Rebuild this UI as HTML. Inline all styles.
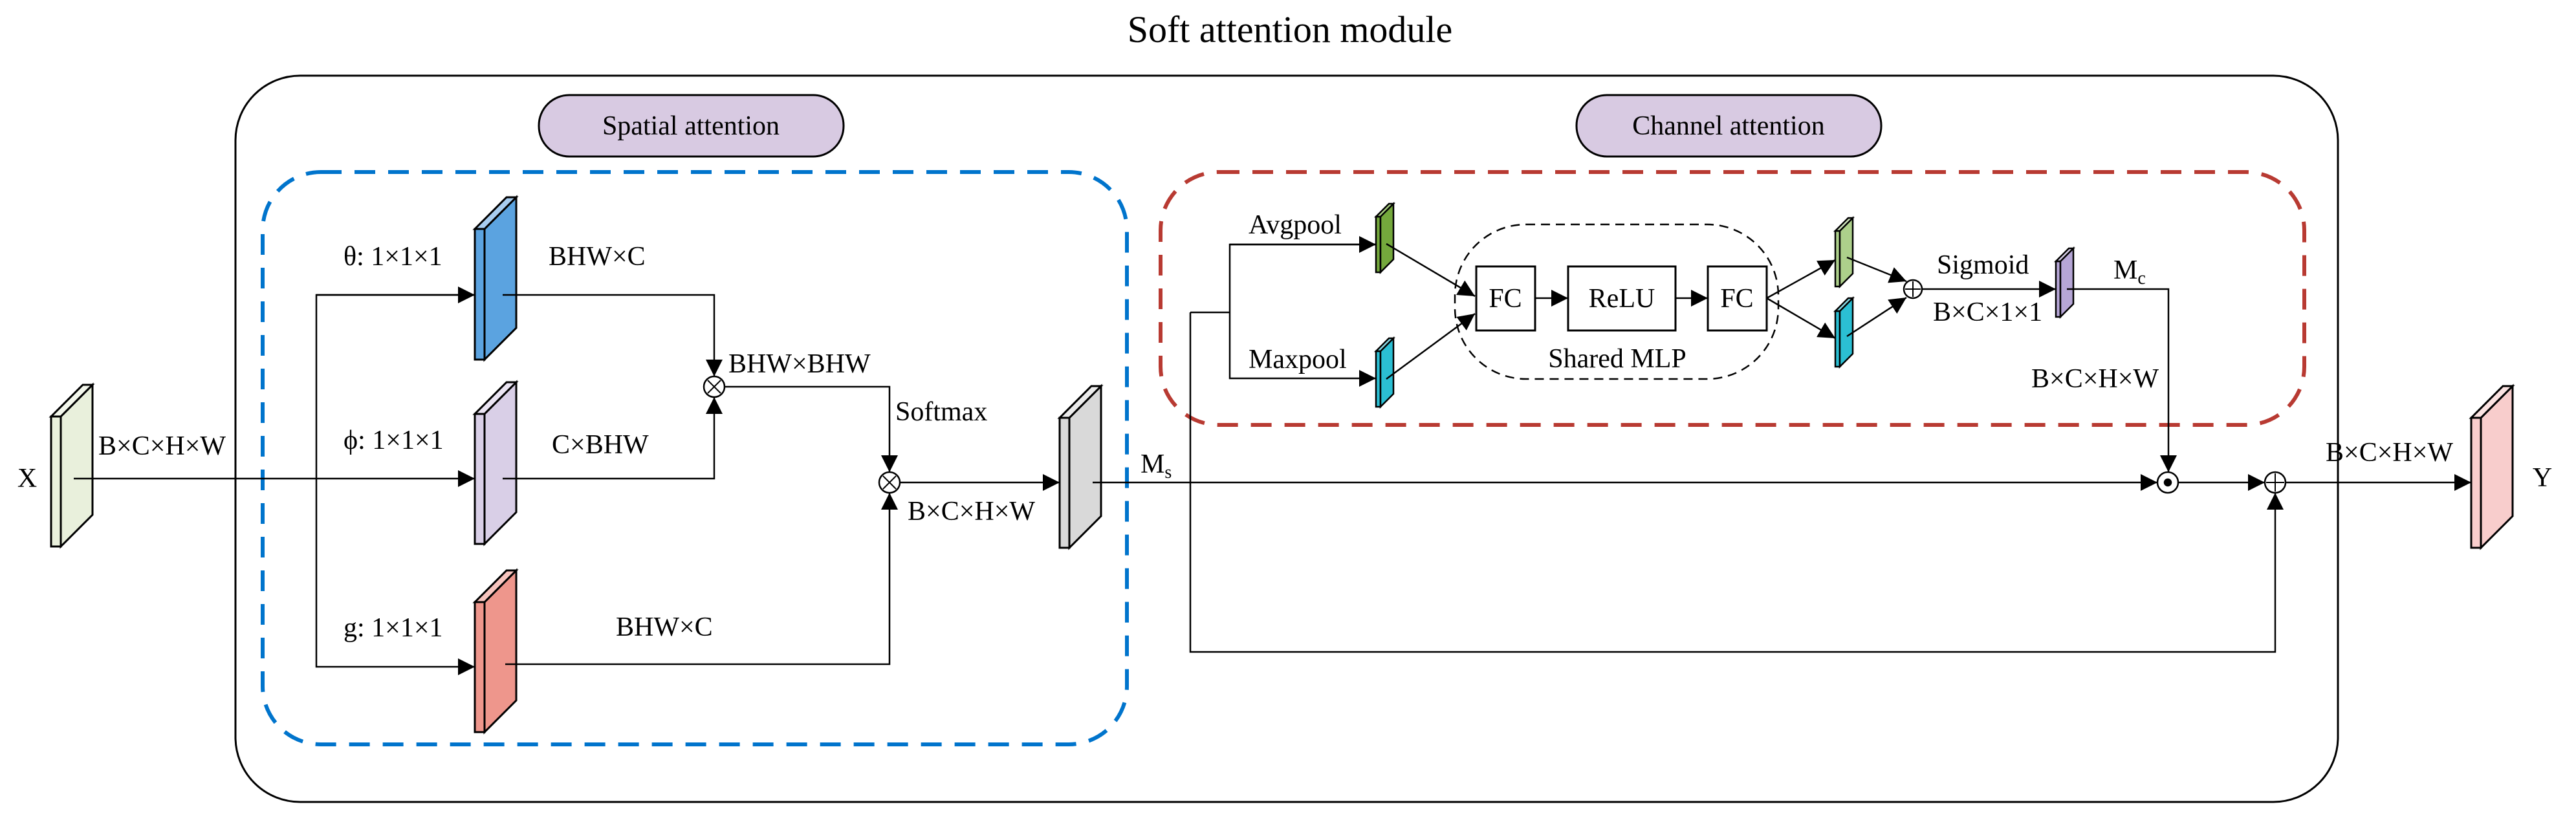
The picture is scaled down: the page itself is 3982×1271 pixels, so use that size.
<!DOCTYPE html>
<html><head><meta charset="utf-8"><style>
html,body{margin:0;padding:0;background:#fff;}
svg{display:block;}
text{font-family:"Liberation Serif",serif;fill:#000;}
</style></head><body>
<svg width="3982" height="1271" viewBox="0 0 3982 1271" xmlns="http://www.w3.org/2000/svg">
<defs>
<marker id="b" viewBox="0 0 10 10" refX="10" refY="5" markerWidth="26" markerHeight="26" markerUnits="userSpaceOnUse" orient="auto"><path d="M0,0 L10,5 L0,10 z" fill="#000"/></marker>
</defs>
<g stroke="#000" fill="none" stroke-width="3">
<text x="1994" y="65" font-size="58" text-anchor="middle" stroke="none">Soft attention module</text>
<rect x="364" y="117" width="3250" height="1123" rx="100" ry="100"/>
<rect x="833" y="147" width="471" height="95" rx="47" fill="#d8cae2"/>
<rect x="2437" y="147" width="471" height="95" rx="47" fill="#d8cae2"/>
<text x="1068" y="208" font-size="42" text-anchor="middle" stroke="none">Spatial attention</text>
<text x="2672" y="208" font-size="42" text-anchor="middle" stroke="none">Channel attention</text>
<rect x="406" y="266" width="1336" height="885" rx="90" stroke="#0074cc" stroke-width="6" stroke-dasharray="32,20"/>
<rect x="1794" y="266" width="1768" height="391" rx="90" stroke="#b83a32" stroke-width="6" stroke-dasharray="32,20"/>
<rect x="2249" y="347" width="500" height="239" rx="110" stroke-width="2.5" stroke-dasharray="14,9"/>

<g stroke-width="3">
<polygon points="79,644 94,644 94,845 79,845" fill="#e9f0dc"/>
<polygon points="94,644 143,595 143,796 94,845" fill="#e9f0dc"/>
<polygon points="79,644 128,595 143,595 94,644" fill="#f3f7ec"/>
<polygon points="734,354 749,354 749,556 734,556" fill="#5ba3e0"/>
<polygon points="749,354 798,305 798,507 749,556" fill="#5ba3e0"/>
<polygon points="734,354 783,305 798,305 749,354" fill="#a8cdf0"/>
<polygon points="734,640 749,640 749,841 734,841" fill="#d9cfe7"/>
<polygon points="749,640 798,591 798,792 749,841" fill="#d9cfe7"/>
<polygon points="734,640 783,591 798,591 749,640" fill="#ebe5f3"/>
<polygon points="734,931 749,931 749,1132 734,1132" fill="#ee968c"/>
<polygon points="749,931 798,882 798,1083 749,1132" fill="#ee968c"/>
<polygon points="734,931 783,882 798,882 749,931" fill="#f7c4be"/>
<polygon points="1638,646 1653,646 1653,847 1638,847" fill="#d9d9d9"/>
<polygon points="1653,646 1702,597 1702,798 1653,847" fill="#d9d9d9"/>
<polygon points="1638,646 1687,597 1702,597 1653,646" fill="#ececec"/>
<polygon points="3820,646 3835,646 3835,847 3820,847" fill="#f8cdcc"/>
<polygon points="3835,646 3884,597 3884,798 3835,847" fill="#f8cdcc"/>
<polygon points="3820,646 3869,597 3884,597 3835,646" fill="#fbe3e2"/>
</g>
<g stroke-width="2.5">
<polygon points="2127,335 2134,335 2134,421 2127,421" fill="#74a83c"/>
<polygon points="2134,335 2154,315 2154,401 2134,421" fill="#74a83c"/>
<polygon points="2127,335 2147,315 2154,315 2134,335" fill="#a9cf80"/>
<polygon points="2127,543 2134,543 2134,629 2127,629" fill="#2bbfd3"/>
<polygon points="2134,543 2154,523 2154,609 2134,629" fill="#2bbfd3"/>
<polygon points="2127,543 2147,523 2154,523 2134,543" fill="#8adbe6"/>
<polygon points="2837,357 2844,357 2844,443 2837,443" fill="#add08b"/>
<polygon points="2844,357 2864,337 2864,423 2844,443" fill="#add08b"/>
<polygon points="2837,357 2857,337 2864,337 2844,357" fill="#d3e7c1"/>
<polygon points="2837,481 2844,481 2844,567 2837,567" fill="#2bbfd3"/>
<polygon points="2844,481 2864,461 2864,547 2844,567" fill="#2bbfd3"/>
<polygon points="2837,481 2857,461 2864,461 2844,481" fill="#8adbe6"/>
<polygon points="3178,404 3185,404 3185,490 3178,490" fill="#b6a6d6"/>
<polygon points="3185,404 3205,384 3205,470 3185,490" fill="#b6a6d6"/>
<polygon points="3178,404 3198,384 3205,384 3185,404" fill="#d9d0ea"/>
</g>

<g stroke-width="2.5">
<line x1="114" y1="740" x2="734" y2="740" marker-end="url(#b)"/>
<polyline points="734,456 489,456 489,1031 734,1031" marker-end="url(#b)"/>
<line x1="489" y1="456" x2="734" y2="456" marker-end="url(#b)"/>
<polyline points="777,456 1104,456 1104,582" marker-end="url(#b)"/>
<polyline points="777,740 1104,740 1104,614" marker-end="url(#b)"/>
<circle cx="1104" cy="598" r="16" fill="#fff"/>
<path d="M1094,588 L1114,608 M1114,588 L1094,608" stroke-width="2"/>
<polyline points="1120,598 1375,598 1375,730" marker-end="url(#b)"/>
<polyline points="781,1027 1375,1027 1375,762" marker-end="url(#b)"/>
<circle cx="1375" cy="746" r="16" fill="#fff"/>
<path d="M1365,736 L1385,756 M1385,736 L1365,756" stroke-width="2"/>
<line x1="1391" y1="746" x2="1638" y2="746" marker-end="url(#b)"/>
<line x1="1689" y1="746" x2="3335" y2="746" marker-end="url(#b)"/>
<circle cx="3351" cy="746" r="16" fill="#fff"/>
<circle cx="3351" cy="746" r="5" fill="#000"/>
<line x1="3367" y1="746" x2="3501" y2="746" marker-end="url(#b)"/>
<circle cx="3517" cy="746" r="16" fill="#fff"/>
<path d="M3517,732 L3517,760 M3503,746 L3531,746" stroke-width="2"/>
<line x1="3533" y1="746" x2="3820" y2="746" marker-end="url(#b)"/>
<polyline points="1840,483 1840,1008 3517,1008 3517,762" marker-end="url(#b)"/>
<line x1="1840" y1="483" x2="1901" y2="483"/>
<polyline points="2127,378 1901,378 1901,585 2127,585" marker-end="url(#b)"/>
<line x1="1901" y1="378" x2="2127" y2="378" marker-end="url(#b)"/>
<line x1="2143" y1="377" x2="2280" y2="458" marker-end="url(#b)"/>
<line x1="2143" y1="586" x2="2280" y2="485" marker-end="url(#b)"/>
<rect x="2282" y="412" width="91" height="99" fill="#fff" stroke-width="3"/>
<rect x="2424" y="412" width="166" height="99" fill="#fff" stroke-width="3"/>
<rect x="2640" y="412" width="91" height="99" fill="#fff" stroke-width="3"/>
<line x1="2373" y1="461" x2="2424" y2="461" marker-end="url(#b)"/>
<line x1="2590" y1="461" x2="2640" y2="461" marker-end="url(#b)"/>
<line x1="2731" y1="461" x2="2837" y2="402" marker-end="url(#b)"/>
<line x1="2731" y1="461" x2="2837" y2="523" marker-end="url(#b)"/>
<line x1="2855" y1="398" x2="2947" y2="435" marker-end="url(#b)"/>
<line x1="2855" y1="520" x2="2947" y2="460" marker-end="url(#b)"/>
<circle cx="2957" cy="447" r="14" fill="#fff"/>
<path d="M2957,435 L2957,459 M2945,447 L2969,447" stroke-width="2"/>
<line x1="2971" y1="447" x2="3178" y2="447" marker-end="url(#b)"/>
<polyline points="3195,447 3352,447 3352,730" marker-end="url(#b)"/>
</g>

<g stroke="none" font-size="42">
<text x="42" y="753" text-anchor="middle">X</text>
<text x="152" y="703">B×C×H×W</text>
<text x="531" y="410">θ: 1×1×1</text>
<text x="531" y="694">ϕ: 1×1×1</text>
<text x="531" y="984">g: 1×1×1</text>
<text x="848" y="410">BHW×C</text>
<text x="853" y="701">C×BHW</text>
<text x="952" y="983">BHW×C</text>
<text x="1126" y="576">BHW×BHW</text>
<text x="1384" y="650">Softmax</text>
<text x="1403" y="804">B×C×H×W</text>
<text x="1763" y="731">M<tspan font-size="28" dy="8">s</tspan></text>
<text x="1930" y="361">Avgpool</text>
<text x="1930" y="569">Maxpool</text>
<text x="2327" y="475" text-anchor="middle">FC</text>
<text x="2507" y="475" text-anchor="middle">ReLU</text>
<text x="2685" y="475" text-anchor="middle">FC</text>
<text x="2500" y="568" text-anchor="middle">Shared MLP</text>
<text x="2994" y="423">Sigmoid</text>
<text x="2988" y="496">B×C×1×1</text>
<text x="3267" y="431">M<tspan font-size="28" dy="8">c</tspan></text>
<text x="3140" y="599">B×C×H×W</text>
<text x="3595" y="713">B×C×H×W</text>
<text x="3930" y="752" text-anchor="middle">Y</text>
</g>
</g>
</svg>
</body></html>
